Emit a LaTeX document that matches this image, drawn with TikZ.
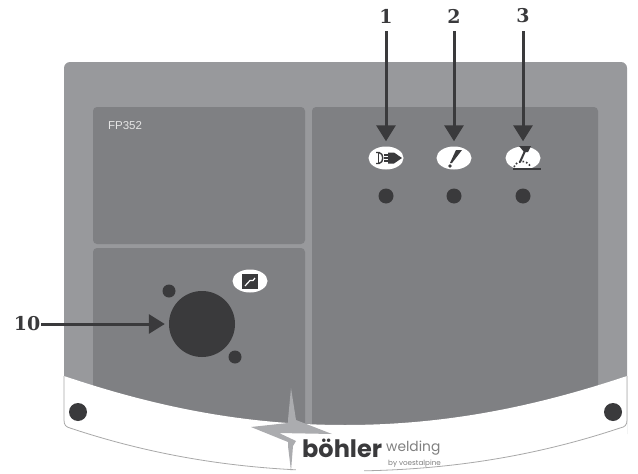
\documentclass[tikz,border=0pt]{standalone}
\usepackage{fontspec}
\usetikzlibrary{arrows.meta,shapes.geometric}
\newfontfamily\numfont{DejaVu Serif}
\newfontfamily\logofont{Poppins}
\newfontfamily\typefont{Liberation Sans}
\definecolor{cover}{HTML}{98999C}
\definecolor{field}{HTML}{7F8083}
\definecolor{ink}{HTML}{3A3A3C}
\definecolor{spark}{HTML}{ABACAF}
\definecolor{rim}{HTML}{A8A8A8}
\tikzset{
    hole/.style={circle,fill=ink,inner sep=0pt,minimum size=#1},
    badge/.style={ellipse,fill=white,inner sep=0pt,minimum width=35pt,minimum height=23pt},
    number/.style={text=ink,inner sep=1pt,font=\numfont\bfseries\fontsize{19}{19}\selectfont},
    callout/.style={ink,line width=3pt,-{Triangle[length=16pt,width=19pt]}},
    glyph/.style={ink,line width=1.4pt}
}
\begin{document}
\begin{tikzpicture}[x=1pt,y=-1pt]
    \useasboundingbox (0,0) rectangle (638,474);

    %%%%%%%%% Pannello %%%%%%%%%
    \fill[cover,rounded corners=6pt] (64,62) rectangle (627,440);
    \fill[field,rounded corners=4pt] (93,107) rectangle (305,244);
    \fill[field,rounded corners=4pt] (93,248) rectangle (305,440);
    \fill[field,rounded corners=4pt] (312,107) rectangle (598,440);

    %%%%%%%%% Fascia %%%%%%%%%
    \fill[white] (64,376) .. controls (150,405) and (240,425) .. (345,425)
        .. controls (450,425) and (540,405) .. (627,376) -- (627,474) -- (64,474) -- cycle;
    \draw[rim,line width=0.8pt] (64,376) -- (64,420) .. controls (64,425) and (66,427) .. (70,428)
        .. controls (160,458) and (250,471) .. (345,471)
        .. controls (440,471) and (530,458) .. (620,428) .. controls (625,427) and (627,425) .. (627,420) -- (627,376);
    \node[hole=18pt] (screwl) at (78,412) {};
    \node[hole=18pt] (screwr) at (613,412) {};

    %%%%%%%%% Marchio %%%%%%%%%
    \fill[white] (296,440) rectangle (364,474);
    \fill[spark] (291,388) -- (296,420) -- (332,434) -- (279,433) -- (296,441) -- (293,446) -- (291,471)
        -- (288,446) -- (288,442) -- (251,427) -- (288,423) -- (288,420) -- cycle;
    \node[inner sep=0pt,anchor=base west,text=ink,font=\logofont\bfseries\fontsize{24}{24}\selectfont] (brand) at (302,457) {böhler};
    \node[inner sep=0pt,anchor=base west,text=gray,font=\logofont\fontsize{13.8}{14}\selectfont] (weld) at (386,451) {welding};
    \node[inner sep=0pt,anchor=base west,text=gray,font=\logofont\fontsize{7.2}{8}\selectfont] (owner) at (388,465) {by voestalpine};

    %%%%%%%%% Testo %%%%%%%%%
    \node[text=white!90!black,inner sep=0pt,font=\typefont\fontsize{11.5}{12}\selectfont] (model) at (125,126) {FP352};
    \node[number] (n1) at (386,16) {1};
    \node[number] (n2) at (454,16) {2};
    \node[number] (n3) at (523,16) {3};
    \node[number] (n10) at (27,324) {10};

    %%%%%%%%% Spie %%%%%%%%%
    \node[badge] (power) at (386,158) {};
    \node[badge] (fault) at (454,158) {};
    \node[badge] (torch) at (523,158) {};
    \node[badge] (mode) at (250,281) {};
    \node[hole=15pt] (led1) at (386,196) {};
    \node[hole=15pt] (led2) at (454,196) {};
    \node[hole=15pt] (led3) at (523,196) {};

    %%%%%%%%% Presa %%%%%%%%%
    \node[hole=66pt] (socket) at (202,324) {};
    \node[hole=13pt] (pinl) at (169,291) {};
    \node[hole=13pt] (pinr) at (235,357) {};

    %%%%%%%%% Icone %%%%%%%%%
    \draw[glyph] (376,152.5) -- (379,152.5) .. controls (384,153) and (384,163) .. (379,163.5) -- (376,163.5);
    \draw[glyph] (378.5,153) -- (378.5,163);
    \draw[glyph] (384,155) -- (388,155) (384,158) -- (388,158) (384,161) -- (388,161);
    \fill[ink] (388,152.5) -- (394,152.5) -- (402,158) -- (394,163.5) -- (388,163.5) -- cycle;

    \fill[ink] (456,150) -- (462,150) -- (452,163) -- (450,163) -- cycle;
    \fill[ink] (450,166) circle (1.8);

    \fill[ink] (519,146) -- (531,146) -- (528,152) -- (524,152) -- cycle;
    \draw[glyph,line width=2pt] (525,151) -- (520,162);
    \draw[ink,line width=1.6pt,dash pattern=on 1.6pt off 2pt] (514,167) .. controls (517,160) and (526,159) .. (531,167);
    \draw[ink,line width=1.4pt] (513,169) -- (541,169);

    \draw[ink,line width=1.5pt,fill=ink] (243,275) rectangle (257,288);
    \draw[white,line width=1.2pt] (245,286) -- (250,280.5) -- (253,280.5) -- (255,278);

    %%%%%%%%% Frecce %%%%%%%%%
    \draw[callout,shorten <=7pt,shorten >=5pt] (n1) -- (power);
    \draw[callout,shorten <=7pt,shorten >=5pt] (n2) -- (fault);
    \draw[callout,shorten <=7pt,shorten >=5pt] (n3) -- (torch);
    \draw[callout,shorten >=4pt] (n10) -- (socket);
\end{tikzpicture}
\end{document}
